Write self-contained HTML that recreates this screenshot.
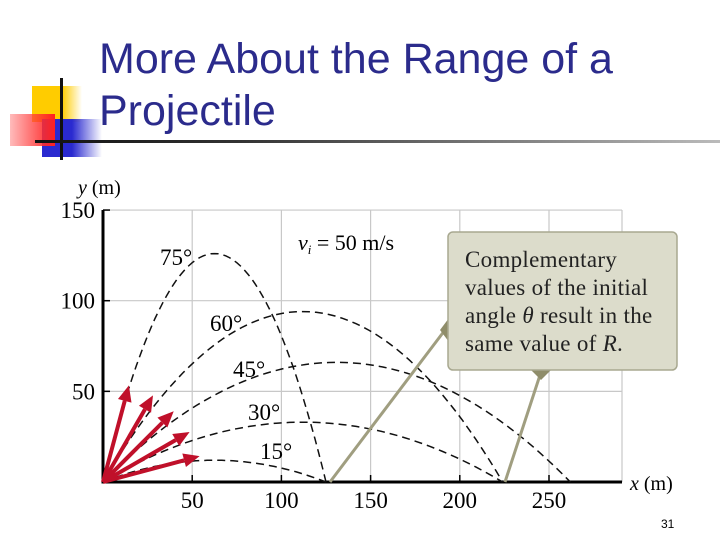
<!DOCTYPE html>
<html><head><meta charset="utf-8"><style>
body{margin:0;width:720px;height:540px;background:#fff;overflow:hidden;position:relative;font-family:"Liberation Sans",sans-serif}
.title{position:absolute;left:99px;top:33px;font-size:43px;line-height:52px;color:#2b2b8c}
</style></head><body>
<div style="position:absolute;left:0;top:0;width:720px;height:160px">
<div style="position:absolute;left:32px;top:86px;width:50px;height:36px;background:linear-gradient(90deg,#ffcc00 60%,rgba(255,220,80,0))"></div>
<div style="position:absolute;left:42px;top:119px;width:60px;height:38px;background:linear-gradient(90deg,#2a2ad0 50%,rgba(60,60,220,0))"></div>
<div style="position:absolute;left:10px;top:114px;width:45px;height:32px;background:linear-gradient(90deg,rgba(255,120,120,.5),#ff2020)"></div>
<div style="position:absolute;left:60px;top:78px;width:3px;height:82px;background:#111"></div>
<div style="position:absolute;left:35px;top:140px;width:685px;height:3px;background:linear-gradient(90deg,#111,#333 30%,#bbb)"></div>
</div>
<div class="title">More About the Range of a<br>Projectile</div>
<svg id="chart" width="720" height="540" style="position:absolute;left:0;top:0" font-family="Liberation Serif, serif"></svg>
<div style="position:absolute;left:661px;top:517px;font-size:12px">31</div>
<script>
const angles=[15,30,45,60,75];
const ranges=[125,224,262,224,125];
const peaks=[12,33,66,94,126];
const xTicks=[50,100,150,200,250];
const yTicks=[50,100,150];
const X0=103,Y0=482,XS=1.784,YS=1.813;
const sx=v=>X0+v*XS, sy=v=>Y0-v*YS;
const svg=document.getElementById('chart');
const NS='http://www.w3.org/2000/svg';
function mk(t,a,p){const e=document.createElementNS(NS,t);for(const k in a)e.setAttribute(k,a[k]);(p||svg).appendChild(e);return e;}
xTicks.forEach(t=>{const l=mk('line',{x1:sx(t),x2:sx(t),y1:sy(150),y2:Y0,stroke:'#c8c8c8','stroke-width':1.2});

const tx=mk('text',{x:sx(t),y:Y0+26,'font-size':23,'text-anchor':'middle'});tx.textContent=t;

mk('line',{x1:sx(t),x2:sx(t),y1:Y0,y2:Y0-7,stroke:'#000','stroke-width':1.5});});
yTicks.forEach(t=>{const l=mk('line',{x1:X0,x2:622,y1:sy(t),y2:sy(t),stroke:'#c8c8c8','stroke-width':1.2});

const tx=mk('text',{x:X0-8,y:sy(t)+8,'font-size':23,'text-anchor':'end'});tx.textContent=t;

mk('line',{x1:X0,x2:X0+7,y1:sy(t),y2:sy(t),stroke:'#000','stroke-width':1.5});});
mk('line',{x1:622,x2:622,y1:sy(150),y2:Y0,stroke:'#c8c8c8','stroke-width':1.2});
const ax=mk('path',{d:`M${X0},${sy(150)}V${Y0}H622`,fill:'none',stroke:'#000','stroke-width':3});

let t=mk('text',{x:78,y:194,'font-size':20});t.innerHTML='<tspan font-style="italic">y</tspan> (m)';

t=mk('text',{x:630,y:490,'font-size':20});t.innerHTML='<tspan font-style="italic">x</tspan> (m)';

t=mk('text',{x:298,y:250,'font-size':22});t.innerHTML='<tspan font-style="italic">v</tspan><tspan font-size="13" font-style="italic" dy="4">i</tspan><tspan dy="-4"> = 50 m/s</tspan>';

const labelPos=[[260,459],[248,420],[233,377],[210,331],[160,265]];
angles.forEach((a,i)=>{const R=ranges[i],H=peaks[i];let d='';
for(let k=0;k<=60;k++){const x=R*k/60;const y=4*H*(x/R)*(1-x/R);d+=(k?'L':'M')+sx(x).toFixed(1)+','+sy(y).toFixed(1);}
const p=mk('path',{d,fill:'none',stroke:'#111','stroke-width':1.5,'stroke-dasharray':'8 5'});

const lt=mk('text',{x:labelPos[i][0],y:labelPos[i][1],'font-size':23});lt.textContent=a+'°';

const r=a*Math.PI/180,L=100,tx=X0+L*Math.cos(r),ty=Y0-L*Math.sin(r);
const bx=X0+(L-16)*Math.cos(r),by=Y0-(L-16)*Math.sin(r),px=Math.sin(r)*7,py=Math.cos(r)*7;
const g=mk('g',{});
mk('line',{x1:X0,y1:Y0,x2:bx,y2:by,stroke:'#c0102a','stroke-width':4},g);
mk('polygon',{points:`${tx},${ty} ${bx+px},${by+py} ${bx-px},${by-py}`,fill:'#c0102a'},g);});
const c=mk('g',{});
mk('line',{x1:330,y1:Y0,x2:445,y2:330,stroke:'#a09e80','stroke-width':3},c);
mk('line',{x1:505,y1:Y0,x2:541,y2:372,stroke:'#a09e80','stroke-width':3},c);
mk('polygon',{points:'440,330 449,318 449,342',fill:'#8f8d6a'},c);
mk('polygon',{points:'530,369 552,369 541,380',fill:'#8f8d6a'},c);
mk('rect',{x:448,y:232,width:229,height:138,rx:5,fill:'#dcdccb',stroke:'#a8a890','stroke-width':1.5},c);
const lines=['Complementary','values of the initial','angle <tspan font-style="italic">θ</tspan> result in the','same value of <tspan font-style="italic">R</tspan>.'];
lines.forEach((s,i)=>{const e=mk('text',{x:465,y:267+i*28,'font-size':23,'letter-spacing':0.3,fill:'#222'},c);e.innerHTML=s;
});
</script>
</body></html>
